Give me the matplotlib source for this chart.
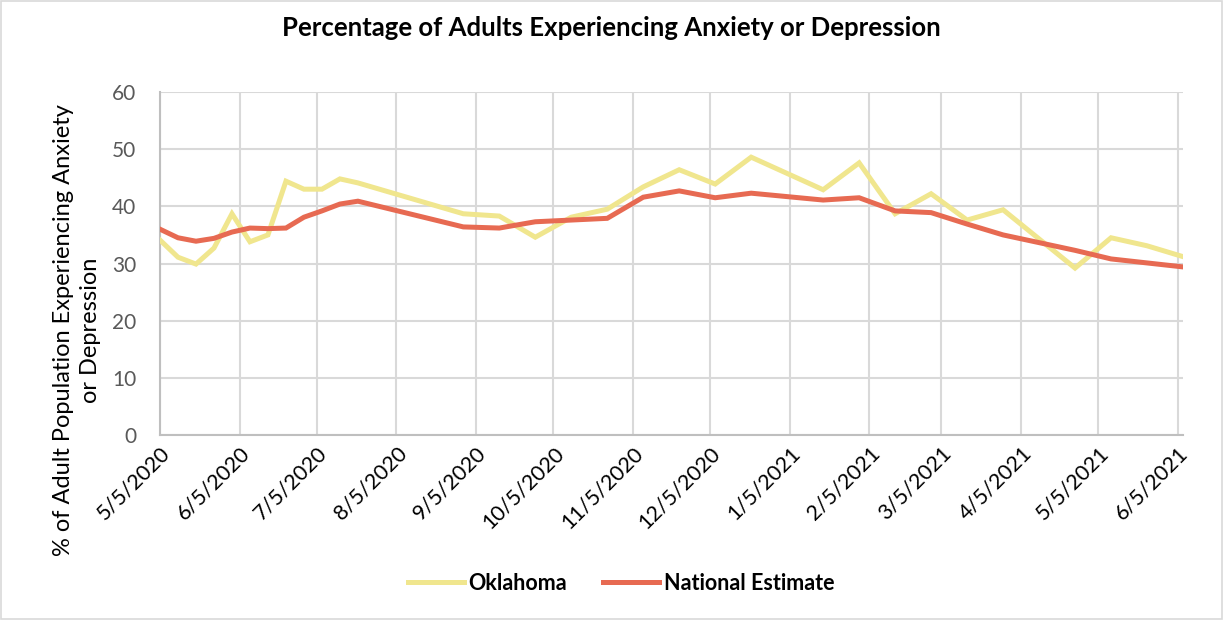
import datetime as dt

import matplotlib.dates as mdates
import matplotlib.pyplot as plt
from matplotlib.patches import Rectangle

# Survey week end dates (Household Pulse) and estimates, %
week_end = [
    "2020-05-05", "2020-05-12", "2020-05-19", "2020-05-26", "2020-06-02",
    "2020-06-09", "2020-06-16", "2020-06-23", "2020-06-30", "2020-07-07",
    "2020-07-14", "2020-07-21", "2020-08-31", "2020-09-14", "2020-09-28",
    "2020-10-12", "2020-10-26", "2020-11-09", "2020-11-23", "2020-12-07",
    "2020-12-21", "2021-01-18", "2021-02-01", "2021-02-15", "2021-03-01",
    "2021-03-15", "2021-03-29", "2021-04-26", "2021-05-10", "2021-05-24",
    "2021-06-07",
]
oklahoma = [
    34.1, 31.1, 29.9, 32.7, 38.7, 33.8, 35.0, 44.4, 43.0, 43.0,
    44.8, 44.1, 38.7, 38.3, 34.6, 38.1, 39.5, 43.4, 46.4, 43.9,
    48.6, 42.9, 47.6, 38.7, 42.2, 37.6, 39.4, 29.2, 34.5, 33.1,
    31.2,
]
national = [
    36.0, 34.5, 33.9, 34.4, 35.5, 36.2, 36.1, 36.2, 38.1, 39.2,
    40.4, 40.9, 36.4, 36.2, 37.3, 37.6, 37.9, 41.6, 42.7, 41.5,
    42.3, 41.1, 41.5, 39.2, 38.9, 36.9, 35.0, 32.3, 30.8, 30.1,
    29.4,
]
tick_dates = [
    "2020-05-05", "2020-06-05", "2020-07-05", "2020-08-05", "2020-09-05",
    "2020-10-05", "2020-11-05", "2020-12-05", "2021-01-05", "2021-02-05",
    "2021-03-05", "2021-04-05", "2021-05-05", "2021-06-05",
]

dates = [dt.date.fromisoformat(d) for d in week_end]
ticks = [dt.date.fromisoformat(d) for d in tick_dates]

plt.rcParams["font.family"] = ["Lato", "DejaVu Sans"]

W, H = 1223, 620
fig = plt.figure(figsize=(W / 100, H / 100), dpi=100)
ax = fig.add_axes([160 / W, 1 - 435 / H, (1183 - 160) / W, (435 - 92) / H])

grid_c = "#D9D9D9"
ax.plot(dates, oklahoma, color="#F0E68E", lw=3.6, solid_joinstyle="miter",
        label="Oklahoma", zorder=3)
ax.plot(dates, national, color="#E76A52", lw=3.6, solid_joinstyle="miter",
        label="National Estimate", zorder=4)

ax.set_xlim(dates[0], dates[-1])
ax.set_ylim(0, 60)
ax.set_yticks(range(0, 61, 10))
ax.set_xticks(ticks)


def short_date(v, _pos):
    d = mdates.num2date(v)
    return f"{d.month}/{d.day}/{d.year}"


ax.xaxis.set_major_formatter(plt.FuncFormatter(short_date))
ax.grid(True, color=grid_c, lw=1.5)
ax.set_axisbelow(True)
for side in ("top", "right"):
    ax.spines[side].set_visible(False)
for side in ("left", "bottom"):
    ax.spines[side].set_color("#BFBFBF")
    ax.spines[side].set_linewidth(1.5)
ax.tick_params(length=0)
ax.tick_params(axis="y", labelsize=15, labelcolor="#595959", pad=17)
ax.tick_params(axis="x", labelsize=15.5, labelcolor="black", pad=6)
for lbl in ax.get_xticklabels():
    lbl.set_rotation(45)
    lbl.set_ha("right")
    lbl.set_rotation_mode("anchor")

fig.text(611 / W, 1 - 28 / H,
         "Percentage of Adults Experiencing Anxiety or Depression",
         ha="center", va="center", fontsize=18.5, fontweight="bold")
fig.text(77 / W, 1 - 330 / H,
         "% of Adult Population Experiencing Anxiety\nor Depression",
         ha="center", va="center", rotation=90, fontsize=17, linespacing=1.3)

fig.legend(loc="center", bbox_to_anchor=(621 / W, 1 - 583 / H), ncol=2,
           frameon=False, handlelength=2.6, handletextpad=0.2,
           columnspacing=1.7, prop={"weight": "bold", "size": 15.5})

fig.patches.append(Rectangle((1 / W, 1 / H), 1 - 2 / W, 1 - 2 / H,
                             transform=fig.transFigure, fill=False,
                             ec="#D9D9D9", lw=1.2))

fig.savefig("out.png", dpi=100)
